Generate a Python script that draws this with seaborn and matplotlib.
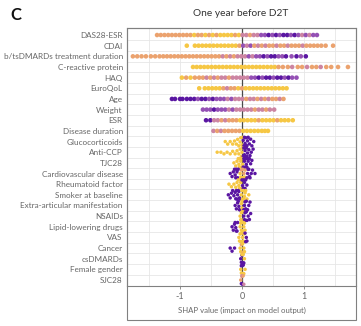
import numpy as np
import pandas as pd
import matplotlib
matplotlib.use("Agg")
import matplotlib.pyplot as plt
from matplotlib.patches import Rectangle
import seaborn as sns

sns.set_theme(style="white")
plt.rcParams["font.family"] = ["Lato", "DejaVu Sans"]

# Features, ordered by mean |SHAP| (top to bottom)
features = [
    "DAS28-ESR", "CDAI", "b/tsDMARDs treatment duration", "C-reactive protein",
    "HAQ", "EuroQoL", "Age", "Weight", "ESR", "Disease duration",
    "Glucocorticoids", "Anti-CCP", "TJC28", "Cardiovascular disease",
    "Rheumatoid factor", "Smoker at baseline", "Extra-articular manifestation",
    "NSAIDs", "Lipid-lowering drugs", "VAS", "Cancer", "csDMARDs",
    "Female gender", "SJC28",
]

# Per-patient SHAP values (x) and binned feature value (c: 0 = low ... 4 = high)
das28_esr_x = [-1.37, -1.31, -1.25, -1.19, -1.13, -1.07, -1.01, -0.95, -0.89, -0.83,
               -0.77, -0.71, -0.65, -0.59, -0.53, -0.47, -0.41, -0.35, -0.29,
               -0.23, -0.17, -0.11, -0.05,
               0.01, 0.07, 0.13, 0.19, 0.25,
               0.31, 0.37, 0.43, 0.49, 0.55, 0.61, 0.67, 0.73, 0.79, 0.85, 0.91,
               0.97, 1.03, 1.09, 1.15, 1.21]
das28_esr_c = [1, 1, 1, 1, 1, 1, 1, 1, 1, 1,
               0, 1, 1, 0, 1, 0, 1, 0, 0,
               0, 0, 1, 0,
               2, 2, 1, 2, 2,
               3, 3, 4, 3, 4, 3, 4, 4, 3, 4, 3,
               2, 3, 2, 3, 3]

cdai_x = [-0.89,
          -0.76, -0.70, -0.64, -0.58, -0.52, -0.46, -0.40, -0.34, -0.28, -0.22, -0.16, -0.10,
          -0.04, 0.02, 0.08, 0.14, 0.20, 0.26, 0.32, 0.38, 0.44, 0.50, 0.56, 0.62,
          0.68, 0.74, 0.80, 0.86, 0.92, 0.98, 1.04, 1.10, 1.16, 1.22, 1.28, 1.35,
          1.47]
cdai_c = [0,
          0, 0, 0, 0, 0, 0, 0, 0, 0, 0, 0, 0,
          1, 3, 2, 3, 1, 2, 1, 2, 1, 1, 2, 1,
          1, 2, 1, 1, 1, 2, 1, 1, 1, 1, 1, 1,
          1]

bts_duration_x = [-1.76, -1.69, -1.62, -1.55, -1.47, -1.40,
                  -1.33, -1.27, -1.21, -1.15, -1.09, -1.03, -0.97, -0.91, -0.85, -0.79, -0.73,
                  -0.67, -0.61, -0.55, -0.49, -0.43, -0.37, -0.31, -0.25, -0.19, -0.13, -0.07,
                  -0.01, 0.05, 0.11, 0.17, 0.23, 0.29, 0.35, 0.41, 0.47, 0.53, 0.59, 0.65, 0.71,
                  0.80, 0.88, 0.95, 1.03]
bts_duration_c = [1, 1, 1, 1, 1, 1,
                  1, 1, 1, 1, 1, 1, 1, 1, 1, 1, 1,
                  1, 1, 1, 1, 1, 1, 2, 1, 2, 1, 2,
                  2, 2, 3, 2, 3, 3, 4, 3, 4, 4, 3, 3, 4,
                  3, 4, 3, 4]

crp_x = [-0.79, -0.73, -0.67, -0.61, -0.55, -0.49, -0.43, -0.37, -0.31, -0.25, -0.19, -0.13,
         -0.07, -0.01, 0.05, 0.11, 0.17, 0.23, 0.29, 0.35, 0.41, 0.47, 0.53, 0.59,
         0.66, 0.74, 0.81, 0.90, 0.97, 1.05, 1.13, 1.20, 1.27, 1.36, 1.44, 1.55,
         1.71]
crp_c = [0, 0, 0, 0, 0, 0, 0, 0, 0, 0, 0, 0,
         0, 0, 0, 0, 0, 0, 0, 0, 0, 0, 0, 1,
         1, 1, 2, 1, 1, 2, 1, 1, 2, 1, 1, 1,
         1]

haq_x = [-0.97, -0.90, -0.83, -0.76,
         -0.69, -0.63, -0.57, -0.51, -0.45, -0.39, -0.33, -0.27, -0.21, -0.15, -0.09, -0.03,
         0.03, 0.09, 0.15, 0.21, 0.27, 0.33, 0.39, 0.45, 0.51, 0.57, 0.63, 0.69, 0.75, 0.81, 0.88]
haq_c = [0, 1, 0, 1,
         1, 1, 2, 1, 2, 1, 2, 2, 1, 2, 2, 2,
         2, 2, 3, 3, 4, 3, 4, 4, 3, 4, 4, 3, 4, 3, 3]

euroqol_x = [-0.69,
             -0.60, -0.54, -0.48, -0.42, -0.36, -0.30, -0.24, -0.18, -0.12, -0.06, 0.00, 0.06,
             0.12, 0.18, 0.24, 0.30, 0.36, 0.42, 0.48, 0.54, 0.60, 0.66, 0.72]
euroqol_c = [0,
             0, 0, 0, 0, 0, 1, 2, 1, 1, 0, 1, 0,
             0, 0, 0, 0, 0, 0, 0, 0, 0, 0, 0]

age_x = [-1.13, -1.08, -1.00, -0.96,
         -0.89, -0.83, -0.77, -0.71, -0.65, -0.59, -0.53, -0.47, -0.41, -0.35, -0.29, -0.23, -0.17, -0.11, -0.05,
         0.01, 0.07, 0.13, 0.19, 0.25, 0.31, 0.37, 0.43, 0.49, 0.55, 0.61, 0.67]
age_c = [4, 4, 4, 4,
         4, 4, 4, 3, 4, 4, 3, 4, 3, 3, 3, 2, 3, 2, 2,
         2, 1, 2, 2, 1, 2, 1, 2, 1, 1, 2, 1]

weight_x = [-0.63, -0.57, -0.51, -0.45, -0.39, -0.33, -0.27, -0.21, -0.15, -0.09, -0.03,
            0.03, 0.09, 0.15, 0.21, 0.27, 0.33, 0.39, 0.45, 0.52]
weight_c = [3, 3, 3, 4, 3, 3, 3, 2, 3, 2, 2,
            2, 2, 2, 1, 2, 2, 1, 2, 2]

esr_x = [-0.58, -0.51,
         -0.45, -0.39, -0.33, -0.27, -0.21, -0.15, -0.09, -0.03,
         0.03, 0.09, 0.15, 0.21, 0.27, 0.33, 0.39, 0.45, 0.51, 0.57, 0.63, 0.69, 0.75, 0.82]
esr_c = [4, 4,
         2, 2, 1, 2, 1, 1, 1, 0,
         0, 0, 0, 0, 1, 0, 0, 0, 0, 1, 0, 0, 0, 0]

duration_x = [-0.46, -0.40, -0.34, -0.28, -0.22, -0.16, -0.10, -0.04,
              0.02, 0.08, 0.14, 0.20, 0.26, 0.32, 0.37, 0.42]
duration_c = [2, 1, 2, 1, 1, 1, 1, 1,
              0, 0, 0, 0, 0, 0, 0, 0]

gluco_x = [-0.27, -0.23, -0.19, -0.15, -0.12, -0.09, -0.07, -0.05, -0.03, -0.02,
           0.00, 0.01,
           0.02, 0.03, 0.04, 0.05, 0.06, 0.07, 0.08, 0.09, 0.10, 0.12, 0.14, 0.16, 0.19]
gluco_c = [0, 0, 0, 0, 0, 0, 0, 0, 0, 0,
           0, 0,
           4, 4, 4, 4, 4, 4, 4, 4, 4, 4, 4, 4, 4]

anticcp_x = [-0.40, -0.34, -0.29, -0.24, -0.19, -0.15, -0.11, -0.08, -0.05, -0.03, -0.01,
             0.00, 0.01,
             0.02, 0.03, 0.04, 0.05, 0.06, 0.07, 0.08, 0.09, 0.11, 0.13, 0.15, 0.18]
anticcp_c = [0, 0, 0, 0, 0, 0, 0, 0, 0, 0, 0,
             0, 0,
             4, 4, 4, 4, 4, 4, 4, 4, 4, 4, 4, 4]

tjc28_x = [-0.13, -0.10, -0.08, -0.06, -0.05, -0.04, -0.03, -0.02, -0.01,
           0.00, 0.01,
           0.02, 0.03, 0.04, 0.05, 0.06, 0.07, 0.08, 0.09, 0.10, 0.12, 0.14, 0.16]
tjc28_c = [0, 0, 0, 0, 0, 0, 0, 0, 0,
           0, 0,
           4, 4, 4, 4, 4, 4, 4, 4, 4, 4, 4, 4]

cvd_x = [-0.19, -0.16, -0.14, -0.12, -0.11, -0.10, -0.09, -0.08, -0.07, -0.06,
         -0.03, -0.02, -0.01, 0.00, 0.01, 0.02, 0.03, 0.04, 0.05,
         0.08, 0.09, 0.10, 0.11, 0.12, 0.13, 0.15, 0.17, 0.21]
cvd_c = [4, 4, 4, 4, 4, 4, 4, 4, 4, 4,
         0, 0, 1, 0, 1, 0, 1, 0, 1,
         4, 4, 4, 4, 4, 4, 4, 4, 4]

rf_x = [-0.21, -0.17, -0.13, -0.10, -0.08, -0.06, -0.05, -0.04, -0.03, -0.02, -0.01,
        0.00, 0.01, 0.02, 0.03, 0.04, 0.05, 0.06, 0.08]
rf_c = [0, 0, 0, 0, 0, 0, 0, 0, 0, 0, 0,
        4, 4, 4, 4, 4, 4, 4, 4]

smoker_x = [-0.22, -0.19, -0.17, -0.15, -0.13, -0.11, -0.10, -0.09, -0.08, -0.07, -0.06, -0.05, -0.04, -0.03,
            -0.01, 0.00, 0.01, 0.02, 0.03, 0.04, 0.05, 0.06, 0.08, 0.11]
smoker_c = [4, 4, 4, 4, 4, 4, 4, 4, 4, 4, 4, 4, 4, 4,
            0, 0, 0, 0, 0, 0, 0, 0, 0, 0]

extra_x = [-0.11, -0.09, -0.07, -0.06, -0.05, -0.04, -0.03,
           -0.01, 0.00, 0.00, 0.01, 0.02,
           0.03, 0.04, 0.05, 0.06, 0.07, 0.09, 0.11, 0.13]
extra_c = [4, 4, 4, 4, 4, 4, 4,
           0, 0, 0, 0, 0,
           4, 4, 4, 4, 4, 4, 4, 4]

nsaids_x = [-0.03, -0.02, -0.01, 0.00, 0.00, 0.01, 0.02,
            0.03, 0.04, 0.05, 0.06, 0.07, 0.08, 0.10, 0.12, 0.14]
nsaids_c = [0, 0, 0, 0, 0, 0, 0,
            4, 4, 4, 4, 4, 4, 4, 4, 4]

lipid_x = [-0.16, -0.14, -0.12, -0.11, -0.10, -0.09, -0.08, -0.07,
           -0.03, -0.02, -0.01, 0.00, 0.01, 0.02, 0.03, 0.04, 0.05]
lipid_c = [4, 4, 4, 4, 4, 4, 4, 4,
           0, 0, 0, 0, 0, 0, 0, 0, 0]

vas_x = [-0.05, -0.04, -0.03, -0.02, -0.01, 0.00, 0.01, 0.02, 0.03, 0.04,
         0.05, 0.06, 0.07, 0.08]
vas_c = [0, 0, 0, 0, 0, 0, 0, 0, 0, 0,
         4, 4, 4, 4]

cancer_x = [-0.19, -0.16, -0.12,
            -0.03, -0.02, -0.01, 0.00, 0.01, 0.02, 0.03, 0.04]
cancer_c = [4, 4, 4,
            0, 0, 1, 0, 0, 1, 0, 0]

csdmards_x = [-0.02, -0.01, 0.00, 0.01, 0.02, 0.03,
              0.00, 0.01, 0.02, 0.04]
csdmards_c = [4, 4, 4, 4, 4, 4,
              0, 0, 0, 0]

female_x = [-0.02, -0.01, 0.00, 0.01, 0.02, 0.03, 0.05,
            -0.01, 0.00, 0.01, 0.02]
female_c = [0, 0, 0, 0, 0, 0, 0,
            4, 4, 4, 4]

sjc28_x = [-0.02, -0.01, 0.00, 0.00, 0.01, 0.02, 0.03]
sjc28_c = [1, 4, 1, 2, 4, 1, 2]

shap_values = [das28_esr_x, cdai_x, bts_duration_x, crp_x, haq_x, euroqol_x, age_x,
               weight_x, esr_x, duration_x, gluco_x, anticcp_x, tjc28_x, cvd_x, rf_x,
               smoker_x, extra_x, nsaids_x, lipid_x, vas_x, cancer_x, csdmards_x,
               female_x, sjc28_x]
feature_levels = [das28_esr_c, cdai_c, bts_duration_c, crp_c, haq_c, euroqol_c, age_c,
                  weight_c, esr_c, duration_c, gluco_c, anticcp_c, tjc28_c, cvd_c, rf_c,
                  smoker_c, extra_c, nsaids_c, lipid_c, vas_c, cancer_c, csdmards_c,
                  female_c, sjc28_c]

# Feature-value colour scale: low (yellow) -> high (purple)
level_colors = ["#f6c744", "#eba26e", "#cc84a2", "#9450b4", "#5a16a2"]

records = []
for rank, (name, xs, cs) in enumerate(zip(features, shap_values, feature_levels)):
    assert len(xs) == len(cs), name
    for x, c in zip(xs, cs):
        records.append({"feature": name, "rank": rank, "shap": x, "level": str(c)})
df = pd.DataFrame(records)
palette = {str(i): col for i, col in enumerate(level_colors)}
hue_order = [str(i) for i in range(len(level_colors))]

# Wide-spread features are drawn as dense single-file rows,
# features concentrated near zero as beeswarms.
n_line_rows = 10
df_lines = df[df["rank"] < n_line_rows]
df_swarm = df[df["rank"] >= n_line_rows]

W, H = 361, 326
fig = plt.figure(figsize=(W / 100, H / 100), dpi=100)
ax = fig.add_axes([127 / W, 1 - 286 / H, (356 - 127) / W, (286 - 28) / H])

ax.axvline(0, color="#4a4a4a", lw=0.9, zorder=1)
sns.stripplot(data=df_lines, x="shap", y="feature", hue="level", order=features,
              hue_order=hue_order, palette=palette, size=3.3, jitter=False,
              legend=False, ax=ax, zorder=3)
sns.swarmplot(data=df_swarm, x="shap", y="feature", hue="level", order=features,
              hue_order=hue_order, palette=palette, size=2.5,
              legend=False, ax=ax, warn_thresh=1, zorder=3)

ax.set_xlim(-1.855, 1.84)
ax.set_ylim(23.56, -0.66)
ax.set_xticks([-1, 0, 1])
ax.set_xticklabels(["-1", "0", "1"])
ax.set_xticks([-1.5, -0.5, 0.5, 1.5], minor=True)
ax.set_yticks(range(len(features)))
ax.set_yticklabels(features)
ax.set_yticks(np.arange(0.5, len(features) - 1, 1), minor=True)
ax.grid(True, which="both", axis="x", color="#e6e6e6", lw=0.6)
ax.grid(True, which="minor", axis="y", color="#e6e6e6", lw=0.6)
ax.grid(False, which="major", axis="y")
ax.set_axisbelow(True)

ax.tick_params(axis="y", which="both", length=0, labelsize=5.9, labelcolor="#666666", pad=3)
ax.tick_params(axis="x", which="major", length=2.5, width=0.6, color="#7f7f7f",
               labelsize=6.5, labelcolor="#666666", pad=2, bottom=True)
ax.tick_params(axis="x", which="minor", length=0)
ax.set_xlabel("SHAP value (impact on model output)", fontsize=5.6, color="#666666", labelpad=4)
ax.set_ylabel("")
for sp in ax.spines.values():
    sp.set_color("#808080")
    sp.set_linewidth(0.8)

# outer frame around the panel, enclosing the axis labels
fig.patches.append(Rectangle((127 / W, 1 - 320 / H), (356 - 127) / W, (320 - 28) / H,
                             transform=fig.transFigure, fill=False,
                             edgecolor="#808080", linewidth=0.8))

fig.text(241 / W, 1 - 13 / H, "One year before D2T", ha="center", va="center",
         fontsize=7.3, color="#333333")
fig.text(16 / W, 1 - 15 / H, "C", ha="center", va="center", fontsize=12,
         fontweight="bold", color="#111111")

fig.savefig("out.png", dpi=100)
